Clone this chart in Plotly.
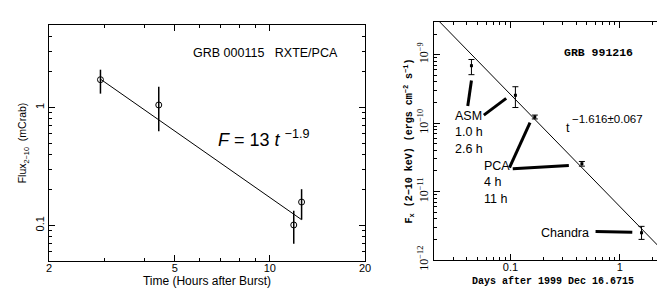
import numpy as np
import plotly.graph_objects as go

# ---------------- Left panel: GRB 000115 RXTE/PCA ----------------
pca_hours = [2.91, 4.45, 11.9, 12.6]
pca_flux = [1.72, 1.05, 0.101, 0.158]
pca_err_hi = [0.37, 0.45, 0.032, 0.045]
pca_err_lo = [0.41, 0.42, 0.031, 0.046]
fit_left_hours = [2.9, 12.6]
fit_left_flux = [1.75, 0.112]
left_x_ticks = [2, 5, 10, 20]
left_x_minor = [3, 4, 6, 7, 8, 9]
left_y_ticks = [0.1, 1]
left_y_labels = ["0.1", "1"]
left_y_minor = [0.06, 0.07, 0.08, 0.09, 0.2, 0.3, 0.4, 0.5, 0.6, 0.7, 0.8, 0.9, 2, 3, 4, 5]

# ---------------- Right panel: GRB 991216 ----------------
grb_days = [0.044, 0.111, 0.167, 0.45, 1.58]
grb_flux = [6.9e-10, 2.55e-10, 1.23e-10, 2.55e-11, 2.5e-12]
grb_err_hi = [1.6e-10, 0.85e-10, 0.08e-10, 0.2e-11, 0.6e-12]
grb_err_lo = [1.8e-10, 0.86e-10, 0.08e-10, 0.2e-11, 0.5e-12]
fit_right_days = [0.0226, 3.0]
fit_right_flux = [3.0e-9, 1.0e-12]
leader_days = [0.044, 0.0407, None, 0.0571, 0.0914, None,
               0.098, 0.151, None, 0.105, 0.342, None, 0.60, 1.30]
leader_flux = [4.2e-10, 1.78e-10, None, 1.31e-10, 2.3e-10, None,
               2.23e-11, 1.02e-10, None, 2.15e-11, 2.4e-11, None, 2.6e-12, 2.55e-12]
right_x_ticks = [0.1, 1]
right_x_labels = ["0.1", "1"]
right_x_minor = [0.02, 0.03, 0.04, 0.05, 0.06, 0.07, 0.08, 0.09,
                 0.2, 0.3, 0.4, 0.5, 0.6, 0.7, 0.8, 0.9, 2, 3]
right_y_ticks = [1e-12, 1e-11, 1e-10, 1e-9]
right_y_labels = ["10<sup>−12</sup>", "10<sup>−11</sup>", "10<sup>−10</sup>", "10<sup>−9</sup>"]
right_y_minor = [m * 10.0 ** e for e in (-12, -11, -10, -9) for m in range(2, 10)]

BLACK = "black"
fig = go.Figure()

fig.add_trace(go.Scatter(x=fit_left_hours, y=fit_left_flux, mode="lines",
                         line=dict(color=BLACK, width=1), xaxis="x", yaxis="y",
                         showlegend=False))
fig.add_trace(go.Scatter(x=pca_hours, y=pca_flux, mode="markers",
                         marker=dict(symbol="circle-open", size=6, color=BLACK,
                                     line=dict(width=1, color=BLACK)),
                         error_y=dict(type="data", array=pca_err_hi, arrayminus=pca_err_lo,
                                      symmetric=False, width=0, thickness=1.5, color=BLACK),
                         xaxis="x", yaxis="y", showlegend=False))

fig.add_trace(go.Scatter(x=fit_right_days, y=fit_right_flux, mode="lines",
                         line=dict(color=BLACK, width=1), xaxis="x2", yaxis="y2",
                         showlegend=False))
fig.add_trace(go.Scatter(x=leader_days, y=leader_flux, mode="lines",
                         line=dict(color=BLACK, width=3), xaxis="x2", yaxis="y2",
                         connectgaps=False, showlegend=False))
fig.add_trace(go.Scatter(x=grb_days, y=grb_flux, mode="markers",
                         marker=dict(symbol="square", size=3, color=BLACK),
                         error_y=dict(type="data", array=grb_err_hi, arrayminus=grb_err_lo,
                                      symmetric=False, width=3, thickness=1, color=BLACK),
                         xaxis="x2", yaxis="y2", showlegend=False))

W, H = 665, 289
def xd(a, b):
    return [a / W, b / W]
def yd(top, bottom):
    return [1 - bottom / H, 1 - top / H]

common = dict(type="log", showline=True, linecolor=BLACK, linewidth=1, mirror="allticks",
              ticks="inside", ticklen=6, tickcolor=BLACK, showgrid=False, zeroline=False,
              automargin=False)
sans = "Liberation Sans, Arial, sans-serif"
mono = "Liberation Mono, Courier New, monospace"

fig.update_layout(
    width=W, height=H, margin=dict(l=0, r=0, t=0, b=0),
    paper_bgcolor="white", plot_bgcolor="white",
    font=dict(family=sans, color=BLACK, size=11),
    xaxis=dict(**common, domain=xd(41, 357), anchor="y",
               range=[np.log10(2), np.log10(20)],
               tickmode="array", tickvals=left_x_ticks, ticktext=[str(v) for v in left_x_ticks],
               tickfont=dict(size=11), ticklabelstandoff=-3,
               minor=dict(tickmode="array", tickvals=left_x_minor, ticks="inside", ticklen=3,
                          tickcolor=BLACK, showgrid=False),
               title=dict(text="Time (Hours after Burst)", font=dict(size=12), standoff=1)),
    yaxis=dict(**common, domain=yd(17, 253), anchor="x",
               range=[np.log10(0.05), np.log10(5)],
               tickmode="array", tickvals=left_y_ticks, ticktext=left_y_labels,
               tickangle=-90, tickfont=dict(size=11),
               minor=dict(tickmode="array", tickvals=left_y_minor, ticks="inside", ticklen=3,
                          tickcolor=BLACK, showgrid=False),
               title=dict(text="Flux<sub>2−10</sub>\u00a0\u00a0(mCrab)", font=dict(size=10.5),
                          standoff=4)),
    xaxis2=dict(**common, domain=xd(426, 664), anchor="y2",
                range=[np.log10(0.02), np.log10(3)],
                tickmode="array", tickvals=right_x_ticks, ticktext=right_x_labels,
                tickfont=dict(size=11), ticklabelstandoff=-3,
                minor=dict(tickmode="array", tickvals=right_x_minor, ticks="inside", ticklen=3,
                           tickcolor=BLACK, showgrid=False),
                title=dict(text="Days after 1999 Dec 16.6715",
                           font=dict(family=mono, size=10, weight="bold"), standoff=4)),
    yaxis2=dict(**common, domain=yd(14, 252), anchor="x2",
                range=[-12, np.log10(3e-9)],
                tickmode="array", tickvals=right_y_ticks, ticktext=right_y_labels,
                tickangle=-90, tickfont=dict(family="Liberation Serif, serif", size=12),
                minor=dict(tickmode="array", tickvals=right_y_minor, ticks="inside", ticklen=3,
                           tickcolor=BLACK, showgrid=False),
                title=dict(text="F<sub>x</sub> (2−10 keV) (ergs cm<sup>−2</sup> s<sup>−1</sup>)",
                           font=dict(family=mono, size=10, weight="bold"), standoff=1)),
)

ann = [
    dict(text="GRB 000115\u00a0\u00a0\u00a0RXTE/PCA", x=np.log10(9.69), y=np.log10(2.9),
         xref="x", yref="y", font=dict(size=12.5), xanchor="center", yanchor="middle"),
    dict(text="<i>F</i> = 13 <i>t</i> <sup>−1.9</sup>", x=np.log10(9.52), y=np.log10(0.548),
         xref="x", yref="y", font=dict(size=18), xanchor="center", yanchor="middle"),
    dict(text="<b>GRB 991216</b>", x=np.log10(0.634), y=np.log10(1.06e-9),
         xref="x2", yref="y2", font=dict(family=mono, size=11.5), xanchor="center",
         yanchor="middle"),
    dict(text="ASM<br>1.0 h<br>2.6 h", x=np.log10(0.0299), y=np.log10(7.3e-11),
         xref="x2", yref="y2", font=dict(size=12.5), xanchor="left", yanchor="middle",
         align="left"),
    dict(text="PCA<br>4 h<br>11 h", x=np.log10(0.0551), y=np.log10(1.37e-11),
         xref="x2", yref="y2", font=dict(size=12.5), xanchor="left", yanchor="middle",
         align="left"),
    dict(text="Chandra", x=np.log10(0.183), y=np.log10(2.46e-12),
         xref="x2", yref="y2", font=dict(size=12.5), xanchor="left", yanchor="middle"),
    dict(text="t", x=np.log10(0.31), y=np.log10(8.6e-11),
         xref="x2", yref="y2", font=dict(size=12.5), xanchor="left", yanchor="middle"),
    dict(text="−1.616±0.067", x=np.log10(0.352), y=np.log10(1.15e-10),
         xref="x2", yref="y2", font=dict(size=11.5), xanchor="left", yanchor="middle"),
]
for a in ann:
    a.setdefault("showarrow", False)
fig.update_layout(annotations=ann)

fig.write_html("out.html")
